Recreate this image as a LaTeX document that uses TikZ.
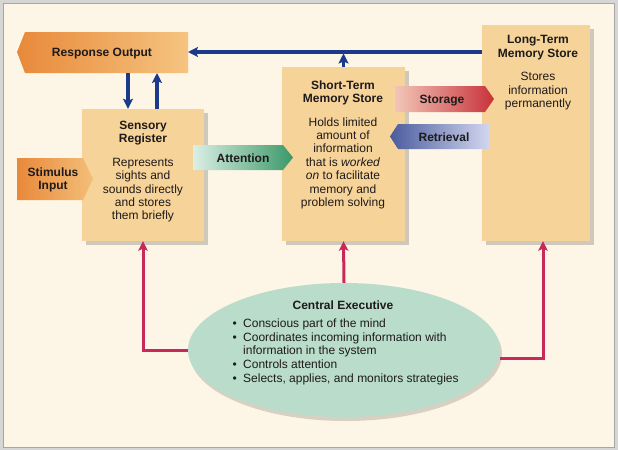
\documentclass[tikz,border=0pt]{standalone}
\usepackage{fontspec}
\setmainfont{Liberation Sans}
\usetikzlibrary{shapes.geometric,shadows,arrows.meta}
\definecolor{bg}{HTML}{FDF6E6}
\definecolor{frameout}{HTML}{D6D6D6}
\definecolor{boxfill}{HTML}{F6D398}
\definecolor{cefill}{HTML}{B9DCCB}
\definecolor{ink}{HTML}{1E1A1B}
\definecolor{navy}{HTML}{1C3A8A}
\definecolor{crim}{HTML}{C8285A}
\definecolor{orD}{HTML}{E8893A}
\definecolor{orL}{HTML}{F5C480}
\definecolor{grD}{HTML}{3A9868}
\definecolor{grL}{HTML}{DCEFE6}
\definecolor{rdD}{HTML}{C8323A}
\definecolor{rdL}{HTML}{F2C6B8}
\definecolor{blD}{HTML}{4A5C9E}
\definecolor{blL}{HTML}{D2D6EE}
\begin{document}
\begin{tikzpicture}[x=1pt,y=-1pt,
  box/.style={fill=boxfill, inner sep=0pt,
    drop shadow={fill=black, opacity=0.18, shadow xshift=4pt, shadow yshift=-4pt}},
  txt/.style={font=\fontsize{12}{13.4}\selectfont, text=ink, align=center, inner sep=0pt},
  lbl/.style={font=\bfseries\fontsize{12}{13}\selectfont, text=ink, align=center, inner sep=0pt},
  bluearr/.style={draw=navy, line width=3.3pt, -{Stealth[length=10pt,width=10pt,inset=2pt]}},
  redarr/.style={draw=crim, line width=3pt, -{Stealth[length=9.5pt,width=9.5pt,inset=2pt]}}]
\useasboundingbox (0,0) rectangle (618,450);
\fill[frameout] (0,0) rectangle (618,450);
\filldraw[fill=bg, draw=gray!70, line width=1pt] (3,3) rectangle (614,447);

% boxes
\node[box, minimum width=122pt, minimum height=132pt] (sr) at (143,175) {};
\node[box, minimum width=123pt, minimum height=174pt] (stm) at (343.5,154) {};
\node[box, minimum width=108pt, minimum height=216pt] (ltm) at (536,133) {};
\node[ellipse, fill=cefill, inner sep=0pt, minimum width=312pt, minimum height=134pt,
  drop shadow={fill=black, opacity=0.15, shadow xshift=2pt, shadow yshift=-4pt}] (ce) at (344,350) {};

% arrow-shaped labels
\path[left color=orD, right color=orL] (17,52) -- (25,32) -- (188,32) -- (188,73) -- (25,73) -- cycle;
\path[left color=orD, right color=orL!90!orD] (17,158) -- (83,158) -- (93,179) -- (83,200) -- (17,200) -- cycle;
\path[left color=grL, right color=grD] (193,145) -- (283,145) -- (293,157.5) -- (283,170) -- (193,170) -- cycle;
\path[left color=rdL, right color=rdD] (395,86) -- (485,86) -- (494,99) -- (485,112) -- (395,112) -- cycle;
\path[left color=blD, right color=blL] (390,136.5) -- (398,124) -- (489,124) -- (489,149) -- (398,149) -- cycle;

% texts
\node[lbl, anchor=base] (ro) at (102,56.3) {Response Output};
\node[lbl, anchor=north] (si) at (53,167.5) {Stimulus\\Input};
\node[lbl, anchor=base] (att) at (243,162.3) {Attention};
\node[lbl, anchor=base] (sto) at (442,103.3) {Storage};
\node[lbl, anchor=base] (ret) at (444,141.3) {Retrieval};

\node[txt, anchor=north] (srtxt) at (143,120.5)
  {\textbf{Sensory}\\\textbf{Register}\\[10.5pt]Represents\\sights and\\sounds directly\\and stores\\them briefly};
\node[txt, anchor=north] (stmtxt) at (343,80.5)
  {\textbf{Short-Term}\\\textbf{Memory Store}\\[10pt]Holds limited\\amount of\\information\\that is \textit{worked}\\\textit{on} to facilitate\\memory and\\problem solving};
\node[txt, anchor=north] (ltmtxt) at (538,35.5)
  {\textbf{Long-Term}\\\textbf{Memory Store}\\[10pt]Stores\\information\\permanently};

\node[lbl, anchor=base] (cet) at (343,309.3) {Central Executive};
\node[txt, align=left, anchor=north west, font=\fontsize{12}{13.7}\selectfont] (cel) at (232.5,318.5)
  {\makebox[10.5pt][l]{•}Conscious part of the mind\\
   \makebox[10.5pt][l]{•}Coordinates incoming information with\\
   \hspace*{10.5pt}information in the system\\
   \makebox[10.5pt][l]{•}Controls attention\\
   \makebox[10.5pt][l]{•}Selects, applies, and monitors strategies};

% blue connectors
\coordinate (roE) at (188,52);
\coordinate (d1) at (128,73);
\coordinate (u1) at (157,73);
\draw[bluearr] (ltm.west |- roE) -- (roE);
\draw[bluearr, shorten >=1.5pt] (stm.north) -- (stm.north |- roE);
\draw[bluearr] (d1) -- (d1 |- sr.north);
\draw[bluearr] (u1 |- sr.north) -- (u1);

% red connectors
\draw[redarr] (ce.west) -| (sr.south);
\draw[redarr] (ce.north) -- (stm.south);
\draw[redarr] ([yshift=-8pt]ce.east) -| ([xshift=7pt]ltm.south);
\end{tikzpicture}
\end{document}
